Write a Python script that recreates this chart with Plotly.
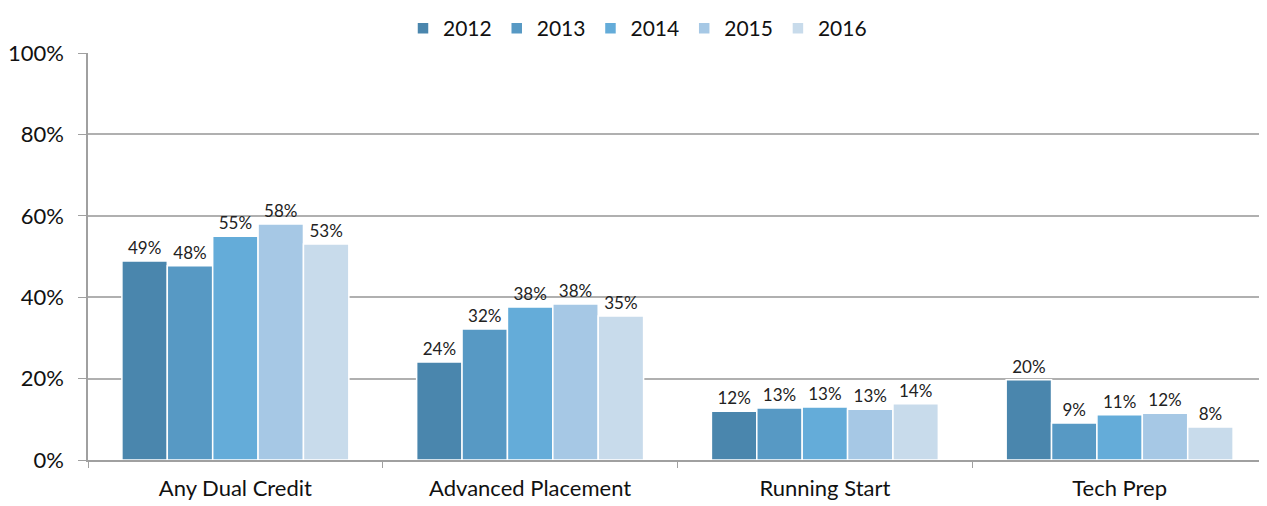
import plotly.graph_objects as go

categories = ["Any Dual Credit", "Advanced Placement", "Running Start", "Tech Prep"]
years = ["2012", "2013", "2014", "2015", "2016"]
values = {
    "2012": [49, 24, 12, 20],
    "2013": [48, 32, 13, 9],
    "2014": [55, 38, 13, 11],
    "2015": [58, 38, 13, 12],
    "2016": [53, 35, 14, 8],
}
# exact bar heights (labels are rounded)
heights = {
    "2012": [48.9, 24.1, 12.0, 19.7],
    "2013": [47.7, 32.2, 12.8, 9.1],
    "2014": [55.0, 37.6, 13.0, 11.1],
    "2015": [58.0, 38.3, 12.5, 11.5],
    "2016": [53.1, 35.4, 13.8, 8.1],
}
colors = ["#4A86AD", "#5799C4", "#64ACD9", "#A6C8E5", "#C8DBEB"]

fig = go.Figure()
for yr, c in zip(years, colors):
    fig.add_trace(go.Bar(
        x=categories,
        y=heights[yr],
        name=yr,
        marker=dict(color=c, line=dict(color="white", width=1.5)),
        text=[f"{v}%" for v in values[yr]],
        textposition="outside",
        constraintext="none",
        cliponaxis=False,
        textfont=dict(size=17, color="#222222"),
    ))

# the page body adds an 8px offset, so the figure is a bit smaller than the window
fig.update_layout(
    barmode="group",
    bargap=0.23,
    bargroupgap=0,
    width=1259,
    height=498,
    margin=dict(l=80, r=0, t=45, b=46),
    plot_bgcolor="white",
    paper_bgcolor="white",
    font=dict(family="Lato, Open Sans, sans-serif", color="#111111"),
    legend=dict(
        orientation="h",
        x=0.5, xanchor="center", xref="container",
        y=1.0, yanchor="top", yref="container",
        font=dict(size=21),
        itemwidth=30,
        traceorder="normal",
    ),
    xaxis=dict(
        showline=True, linecolor="#A0A0A0", linewidth=2,
        ticks="outside", tickson="boundaries", tickcolor="#A0A0A0", ticklen=6,
        tickfont=dict(size=22),
        ticklabelstandoff=8,
        automargin=False,
    ),
    yaxis=dict(
        range=[0, 100],
        dtick=20,
        ticksuffix="%",
        showline=True, linecolor="#A0A0A0", linewidth=1.5,
        showgrid=True, gridcolor="#B0B0B0", gridwidth=1.5,
        ticks="outside", tickcolor="#A0A0A0", ticklen=8,
        tickfont=dict(size=22),
        ticklabelstandoff=10,
        zeroline=False,
        automargin=False,
    ),
)

fig.write_html("out.html")
